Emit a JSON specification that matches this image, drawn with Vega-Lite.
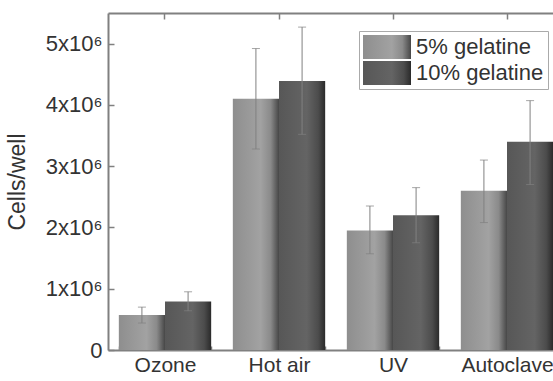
{
  "$schema": "https://vega.github.io/schema/vega-lite/v6.json",
  "autosize": {"type": "none"},
  "padding": {"left": 108, "top": 13, "right": 0, "bottom": 31},
  "width": 456,
  "height": 337,
  "background": "white",
  "view": {"stroke": null},
  "config": {
    "font": "Liberation Sans",
    "axis": {"labelFont": "Liberation Sans", "titleFont": "Liberation Sans", "labelColor": "#333333", "titleColor": "#333333", "domainColor": "#808080", "domainWidth": 2, "tickColor": "#808080", "tickWidth": 1.5, "grid": false},
    "axisY": {"labelFontSize": 22, "titleFontSize": 23, "titleFontWeight": "normal", "titlePadding": 16, "labelPadding": 12}
  },
  "data": {
    "values": [
      {"treatment": "Ozone", "gel": "5% gelatine", "value": 570000, "lo": 440000, "hi": 700000},
      {"treatment": "Ozone", "gel": "10% gelatine", "value": 790000, "lo": 640000, "hi": 950000},
      {"treatment": "Hot air", "gel": "5% gelatine", "value": 4100000, "lo": 3280000, "hi": 4920000},
      {"treatment": "Hot air", "gel": "10% gelatine", "value": 4390000, "lo": 3520000, "hi": 5270000},
      {"treatment": "UV", "gel": "5% gelatine", "value": 1950000, "lo": 1570000, "hi": 2350000},
      {"treatment": "UV", "gel": "10% gelatine", "value": 2200000, "lo": 1750000, "hi": 2650000},
      {"treatment": "Autoclave", "gel": "5% gelatine", "value": 2600000, "lo": 2080000, "hi": 3100000},
      {"treatment": "Autoclave", "gel": "10% gelatine", "value": 3400000, "lo": 2700000, "hi": 4070000}
    ]
  },
  "encoding": {
    "x": {"field": "treatment", "type": "nominal", "sort": ["Ozone", "Hot air", "UV", "Autoclave"], "axis": null,
      "scale": {"paddingInner": 0.19, "paddingOuter": 0.095}},
    "xOffset": {"field": "gel", "type": "nominal", "sort": ["5% gelatine", "10% gelatine"], "scale": {"paddingInner": 0, "paddingOuter": 0}}
  },
  "layer": [
    {
      "transform": [{"filter": "datum.gel == '5% gelatine'"}],
      "mark": {"type": "bar", "fill": {"gradient": "linear", "x1": 0, "y1": 0, "x2": 1, "y2": 0, "stops": [{"offset": 0, "color": "#8e8e8e"}, {"offset": 0.6, "color": "#a2a2a2"}, {"offset": 0.82, "color": "#8a8a8a"}, {"offset": 1, "color": "#474747"}]}},
      "encoding": {
        "x": {"field": "treatment", "type": "nominal", "sort": ["Ozone", "Hot air", "UV", "Autoclave"],
          "axis": {"orient": "bottom", "title": null, "labelAngle": 0, "labelFontSize": 21, "tickBand": "extent", "tickSize": -4, "labelPadding": 8, "labelBaseline": "top"}},
        "y": {"field": "value", "type": "quantitative", "scale": {"domain": [0, 5500000], "nice": false},
          "axis": {"title": "Cells/well", "titleFontSize": 23, "titlePadding": 16, "labelFontSize": 22, "labelPadding": 12, "labelOverlap": false, "tickSize": -6,
            "values": [0, 500000, 1000000, 1500000, 2000000, 2500000, 3000000, 3500000, 4000000, 4500000, 5000000],
            "labelExpr": "datum.value % 1000000 == 0 ? (datum.value == 0 ? '0' : (datum.value / 1000000) + 'x10\u2076') : ''"}}
      }
    },
    {
      "transform": [{"filter": "datum.gel == '10% gelatine'"}],
      "mark": {"type": "bar", "fill": {"gradient": "linear", "x1": 0, "y1": 0, "x2": 1, "y2": 0, "stops": [{"offset": 0, "color": "#575757"}, {"offset": 0.6, "color": "#646464"}, {"offset": 0.85, "color": "#4c4c4c"}, {"offset": 1, "color": "#2a2a2a"}]}},
      "encoding": {
        "y": {"field": "value", "type": "quantitative"}
      }
    },
    {
      "mark": {"type": "rule", "strokeWidth": 1},
      "encoding": {
        "x": {"field": "treatment", "type": "nominal", "sort": ["Ozone", "Hot air", "UV", "Autoclave"],
          "axis": {"orient": "top", "title": null, "labels": false, "tickSize": -6, "domain": true}},
        "y": {"field": "lo", "type": "quantitative"},
        "y2": {"field": "hi"},
        "color": {"field": "gel", "type": "nominal", "sort": ["5% gelatine", "10% gelatine"],
          "scale": {"range": ["#808080", "#808080"]},
          "legend": {"title": null, "orient": "none", "legendX": 251, "legendY": 18, "direction": "vertical",
            "symbolType": "M-1,-1H3V1H-1Z", "symbolSize": 576, "labelFontSize": 22, "labelColor": "#333333", "labelFont": "Liberation Sans",
            "labelOffset": 29, "rowPadding": 2, "padding": 4, "strokeColor": "#aaaaaa", "fillColor": "white",
            "encode": {"symbols": {"update": {
              "fill": [
                {"test": "datum.value === '5% gelatine'", "value": {"gradient": "linear", "x1": 0, "y1": 0, "x2": 1, "y2": 0, "stops": [{"offset": 0, "color": "#8e8e8e"}, {"offset": 0.6, "color": "#a2a2a2"}, {"offset": 0.82, "color": "#8a8a8a"}, {"offset": 1, "color": "#474747"}]}},
                {"value": {"gradient": "linear", "x1": 0, "y1": 0, "x2": 1, "y2": 0, "stops": [{"offset": 0, "color": "#575757"}, {"offset": 0.6, "color": "#646464"}, {"offset": 0.85, "color": "#4c4c4c"}, {"offset": 1, "color": "#2a2a2a"}]}}
              ],
              "stroke": {"value": "transparent"},
              "strokeWidth": {"value": 0},
              "opacity": {"value": 1},
              "fillOpacity": {"value": 1}
            }}}}}
      }
    },
    {
      "mark": {"type": "tick", "color": "#808080", "thickness": 1, "size": 8},
      "encoding": {"y": {"field": "lo", "type": "quantitative"}}
    },
    {
      "mark": {"type": "tick", "color": "#808080", "thickness": 1, "size": 8},
      "encoding": {"y": {"field": "hi", "type": "quantitative"}}
    }
  ],
  "resolve": {"axis": {"x": "independent"}}
}
